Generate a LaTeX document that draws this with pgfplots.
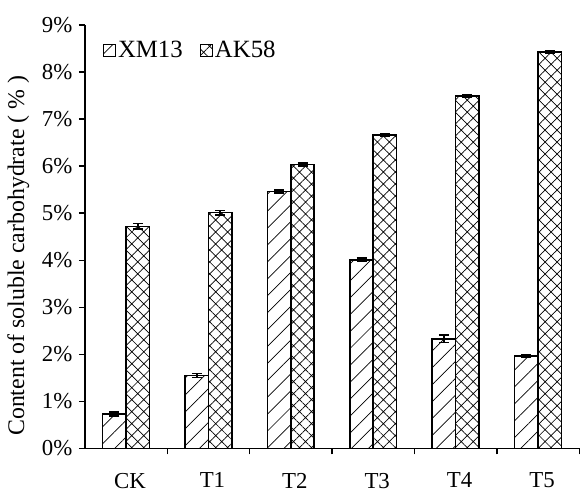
\documentclass[border=0pt]{standalone}
\usepackage{fontspec}
\setmainfont{Liberation Serif}
\usepackage{pgfplots}
\pgfplotsset{compat=1.18}
\usetikzlibrary{patterns.meta}
\begin{document}
\begin{tikzpicture}
\fontsize{22}{26}\selectfont
\begin{axis}[
  scale only axis, width=496bp, height=425bp,
  xmin=0, xmax=6, ymin=0, ymax=9,
  axis x line=bottom, axis y line=left,
  axis line style={-, line width=1.6bp, black},
  ybar=0pt, bar width=0.284,
  xtick={0.5,1.5,2.5,3.5,4.5,5.5},
  xticklabels={CK,T1,T2,T3,T4,T5},
  every major x tick/.style={draw=none},
  minor xtick={1,2,3,4,5,6},
  ytick={0,1,2,3,4,5,6,7,8,9},
  yticklabels={0\%,1\%,2\%,3\%,4\%,5\%,6\%,7\%,8\%,9\%},
  tick align=outside,
  major tick length=6bp, minor tick length=6bp,
  tick style={line width=1.4bp, black},
  ticklabel style={font=\fontsize{23}{27}\selectfont},
  yticklabel style={xshift=1bp},
  xticklabel style={yshift=-11bp, xshift=4bp},
  ylabel={Content of soluble carbohydrate ( \% )},
  ylabel style={at={(ticklabel cs:0.455)}, font=\fontsize{24}{28}\selectfont, yshift=-2bp},
  legend style={at={(0.036,0.968)}, anchor=north west, draw=none, fill=none,
    legend columns=2, font=\fontsize{25}{29}\selectfont, inner sep=0pt,
    /tikz/every even column/.append style={column sep=15bp}},
  legend image code/.code={\draw[#1, line width=1.2bp] (0bp,-6bp) rectangle (12bp,6bp);},
]
\addplot[draw=black, line width=1.6bp,
  pattern={Lines[angle=45,distance=12bp,line width=0.7bp]},
  error bars/.cd, y dir=both, y explicit,
  error bar style={line width=1.6bp, black},
  error mark options={rotate=90, mark size=5bp, line width=1.6bp, black}]
coordinates {
  (0.5,0.73) +- (0,0.04)
  (1.5,1.55) +- (0,0.04)
  (2.5,5.46) +- (0,0.03)
  (3.5,4.01) +- (0,0.04)
  (4.5,2.33) +- (0,0.08)
  (5.5,1.97) +- (0,0.03)
};
\addplot[draw=black, line width=1.6bp,
  pattern={Hatch[angle=45,distance=8.5bp,line width=0.7bp]},
  error bars/.cd, y dir=both, y explicit,
  error bar style={line width=1.6bp, black},
  error mark options={rotate=90, mark size=5bp, line width=1.6bp, black}]
coordinates {
  (0.5,4.72) +- (0,0.06)
  (1.5,5.01) +- (0,0.05)
  (2.5,6.03) +- (0,0.03)
  (3.5,6.66) +- (0,0.03)
  (4.5,7.49) +- (0,0.03)
  (5.5,8.43) +- (0,0.03)
};
\legend{XM13,AK58}
\end{axis}
\path ([shift={(-84bp,-41bp)}]current axis.south west) rectangle ([shift={(0bp,25bp)}]current axis.north east);
\end{tikzpicture}
\end{document}
